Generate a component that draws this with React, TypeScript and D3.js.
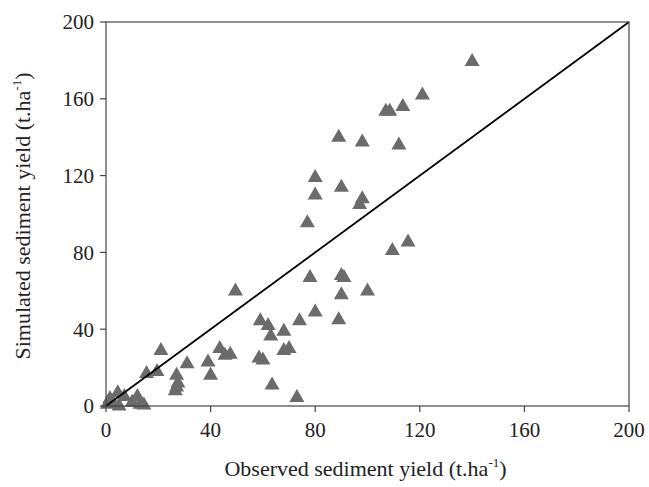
import React from "react";
import * as d3 from "d3";

const observed = [
  0.5, 1.5, 2.5, 4.5, 5, 7, 10, 12, 13, 14.5, 15.5, 19.5, 21, 27, 27.5, 26.5, 27, 31, 39, 40,
  43.5, 45.5, 47.5, 49.5, 59, 58.5, 60, 62, 63, 63.5, 68, 68, 70, 73, 74, 77, 78, 80, 80, 80,
  89, 89, 90, 90, 91, 90, 98, 98, 97, 100, 107, 108.5, 109.5, 112, 113.5, 115.5, 121, 140,
];
const simulated = [
  2, 5, 3, 8, 1, 6, 3, 6, 2, 1.5, 18, 19, 30, 17, 13, 9, 11, 23, 24, 17,
  31, 27.5, 28, 61, 45.5, 26, 25, 43, 37.5, 12, 40, 30, 31, 5.5, 45.5, 96.5, 68, 50, 120, 111,
  141, 46, 115, 69, 68, 59, 138.5, 109, 106, 61, 154.5, 154.5, 82, 137, 157, 86.5, 163, 180.5,
];
const ticks = [0, 40, 80, 120, 160, 200];

export default function App() {
  const width = 649;
  const height = 487;
  const margin = { top: 22, right: 20, bottom: 81, left: 106 };
  const innerW = width - margin.left - margin.right;
  const innerH = height - margin.top - margin.bottom;

  const x = d3.scaleLinear().domain([0, 200]).range([0, innerW]);
  const y = d3.scaleLinear().domain([0, 200]).range([innerH, 0]);

  const tri = (cx: number, cy: number) => {
    const w = 7.5;
    const h = 6.5;
    return `M${cx},${cy - h}L${cx + w},${cy + h}L${cx - w},${cy + h}Z`;
  };

  const font = "'Liberation Serif', 'Times New Roman', serif";
  const axisColor = "#444";
  const textColor = "#222";

  return (
    <svg
      width={width}
      height={height}
      style={{ position: "absolute", left: 0, top: 0, background: "#fff" }}
    >
      <g transform={`translate(${margin.left},${margin.top})`}>
        {/* points */}
        {observed.map((o, i) => (
          <path key={i} d={tri(x(o), y(simulated[i]))} fill="#6b6b6b" />
        ))}

        {/* 1:1 line */}
        <line x1={x(0)} y1={y(0)} x2={x(200)} y2={y(200)} stroke="#000" strokeWidth={1.8} />

        {/* frame */}
        <rect x={0} y={0} width={innerW} height={innerH} fill="none" stroke={axisColor} strokeWidth={1.2} />

        {/* x ticks */}
        {ticks.map(t => (
          <g key={"x" + t} transform={`translate(${x(t)},${innerH})`}>
            <line y2={6} stroke={axisColor} strokeWidth={1.2} />
            <text y={31} textAnchor="middle" fontFamily={font} fontSize={21} fill={textColor}>
              {t}
            </text>
          </g>
        ))}

        {/* y ticks */}
        {ticks.map(t => (
          <g key={"y" + t} transform={`translate(0,${y(t)})`}>
            <line x2={-6} stroke={axisColor} strokeWidth={1.2} />
            <text x={-12} dy="0.35em" textAnchor="end" fontFamily={font} fontSize={21} fill={textColor}>
              {t}
            </text>
          </g>
        ))}

        {/* axis titles */}
        <text
          x={innerW / 2 - 2}
          y={innerH + 70}
          textAnchor="middle"
          fontFamily={font}
          fontSize={22}
          fill={textColor}
        >
          Observed sediment yield (t.ha<tspan dy={-9} fontSize={13}>-1</tspan>
          <tspan dy={9}>)</tspan>
        </text>
        <text
          transform={`translate(${-76},${innerH / 2 + 2}) rotate(-90)`}
          textAnchor="middle"
          fontFamily={font}
          fontSize={22}
          fill={textColor}
        >
          Simulated sediment yield (t.ha<tspan dy={-9} fontSize={13}>-1</tspan>
          <tspan dy={9}>)</tspan>
        </text>
      </g>
    </svg>
  );
}
